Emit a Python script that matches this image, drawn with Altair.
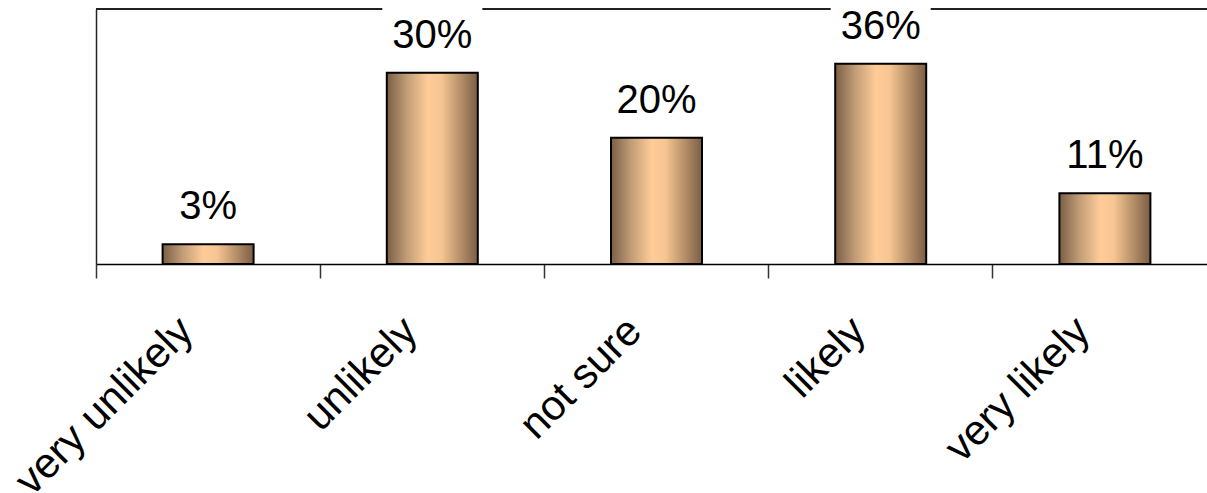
import altair as alt
import pandas as pd

categories = ["very unlikely", "unlikely", "not sure", "likely", "very likely"]
bar_values = [3.1, 30.0, 19.8, 31.4, 11.1]
value_labels = ["3%", "30%", "20%", "36%", "11%"]

df = pd.DataFrame({"cat": categories, "v": bar_values, "lab": value_labels})
df["box_lo"] = df["v"] + 2.0
df["box_hi"] = df["v"] + 11.0

W, H = 1121, 255
FONT = "Liberation Sans"

x_enc = alt.X("cat:N", sort=categories, title=None,
              scale=alt.Scale(paddingInner=0, paddingOuter=0),
              axis=alt.Axis(labelAngle=315, labelAlign="right", labelBaseline="middle",
                            labelFontSize=42, labelFont=FONT, labelColor="black",
                            labelPadding=46, labelOffset=-22, labelLimit=0,
                            bandPosition=0, tickSize=14,
                            tickColor="#333333", tickWidth=1.5,
                            domainColor="black", domainWidth=1.5, labelOverlap=False))
y_scale = alt.Scale(domain=[0, 40], nice=False)

grad = alt.LinearGradient(
    gradient="linear", x1=0, x2=1, y1=0, y2=0,
    stops=[alt.GradientStop(color="#7a5e44", offset=0),
           alt.GradientStop(color="#c19d77", offset=0.22),
           alt.GradientStop(color="#ffcc99", offset=0.45),
           alt.GradientStop(color="#f6c591", offset=0.6),
           alt.GradientStop(color="#7a5e44", offset=1)])

base = alt.Chart(df)

top_line = base.mark_rule(color="#222222", strokeWidth=1.5).encode(
    x=alt.value(0), x2=alt.value(W), y=alt.value(0))

boxes = base.mark_bar(fill="white", width=100).encode(
    x=x_enc, y=alt.Y("box_lo:Q", scale=y_scale), y2="box_hi:Q")

bars = base.mark_bar(fill=grad, stroke="black", strokeWidth=2, width=91).encode(
    x=x_enc,
    y=alt.Y("v:Q", scale=y_scale, title=None,
            axis=alt.Axis(labels=False, ticks=False, grid=False,
                          domainColor="#222222", domainWidth=1.5)))

texts = base.mark_text(font=FONT, fontSize=40, color="black", baseline="alphabetic",
                       dy=-25).encode(
    x=x_enc, y=alt.Y("v:Q", scale=y_scale), text="lab:N")

chart = alt.layer(top_line, boxes, bars, texts).properties(
    width=W, height=H,
    autosize=alt.AutoSizeParams(type="none"),
    padding={"left": 96, "top": 9, "right": -10, "bottom": 229},
).configure_view(stroke=None).configure(background="white")

chart.save("out.html", embed_options={"renderer": "svg", "actions": False})
